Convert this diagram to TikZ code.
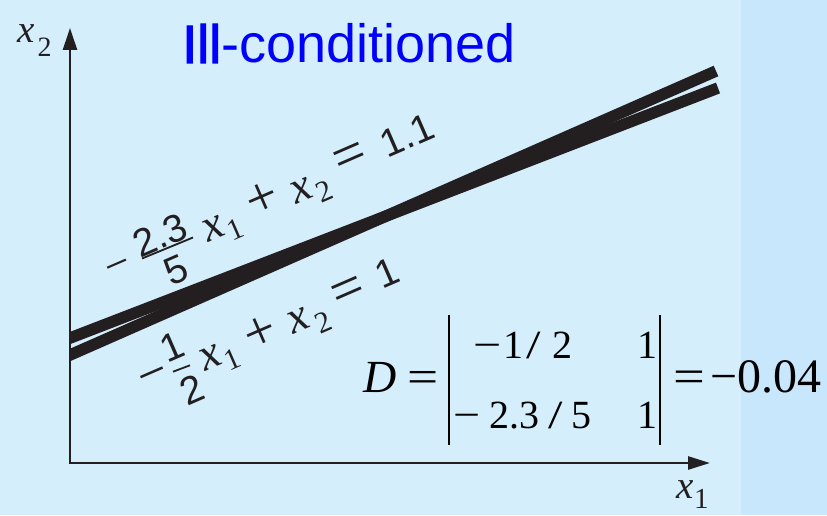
\documentclass[tikz,border=0pt]{standalone}
\usepackage{fontspec}
\setmainfont{Liberation Serif}
\newfontfamily\digfont{Liberation Sans}
\newfontfamily\titlefont{Liberation Sans}
\newfontfamily\titlefontfb{Liberation Sans}[FakeBold=2]
\usetikzlibrary{arrows.meta}
\newcommand\setfs[1]{\fontsize{#1}{#1}\selectfont}
\newcommand\wslash{\scalebox{1.3}[1]{/}}
\definecolor{bgmain}{RGB}{213,238,252}
\definecolor{bgstrip}{RGB}{200,231,252}
\definecolor{ink}{RGB}{35,31,32}
\definecolor{titleblue}{RGB}{0,0,255}
\tikzset{
  eqline/.style={line width=11.5pt, draw=ink, line cap=butt},
  axisline/.style={line width=2.6pt, draw=ink, line join=miter},
  lab/.style={inner sep=0pt, text=ink, rotate=23.5},
  digs/.style={lab, font=\digfont\setfs{39}},
  varx/.style={lab, font=\itshape\setfs{46}},
  subs/.style={lab, font=\setfs{30}},
  plussign/.style={lab, font=\setfs{56}},
  eqsign/.style={lab, font=\setfs{58}},
  fracbar/.style={draw=ink, line width=1.8pt},
  detbar/.style={draw=black, line width=2.2pt},
  dettext/.style={inner sep=0pt, anchor=base west, text=black},
}
\begin{document}
\begin{tikzpicture}[x=1pt,y=1pt]
\useasboundingbox (0,0) rectangle (827,515);
\fill[bgmain] (0,0) rectangle (741,515);
\fill[bgstrip] (741,0) rectangle (827,515);

% the two lines
\coordinate (a1) at (60,173.1);
\coordinate (a2) at (718,427);
\coordinate (b1) at (60,155.6);
\coordinate (b2) at (716,444);
\begin{scope}
  \clip (70,0) rectangle (827,515);
  \draw[eqline] (a1) -- (a2);
  \draw[eqline] (b1) -- (b2);
\end{scope}

% axes
\coordinate (O) at (70,52);
\coordinate (ytip) at (70,487);
\coordinate (xtip) at (710,52);
\draw[axisline, {Triangle[length=22pt,width=14pt]}-{Triangle[length=22pt,width=13pt]}] (ytip) -- (O) -- (xtip);

\node[anchor=base west, inner sep=0pt, text=ink] (xtwo) at (17.5,472)
  {\setfs{39}\itshape x\kern2.5pt\raisebox{-14pt}{\upshape\setfs{28}2}};
\node[anchor=base west, inner sep=0pt, text=ink] (xone) at (676.5,17)
  {\setfs{39}\itshape x\kern0pt\raisebox{-10pt}{\upshape\setfs{29}1}};

% title
\node[anchor=base west, inner sep=0pt, text=titleblue] (title) at (182,452)
  {\setfs{54}\titlefontfb Ill\titlefont-conditioned};

% upper label: -2.3/5 x1 + x2 = 1.1
\node[lab, font=\setfs{44}] (um) at (120,244.5) {−};
\node[digs] (un) at (160,280) {2.3};
\coordinate (ub1) at (142,256.5);
\coordinate (ub2) at (193,277.5);
\draw[fracbar] (ub1) -- (ub2);
\node[digs] (ud) at (176.5,245) {5};
\node[varx] (ux1) at (214,286.5) {x};
\node[subs] (us1) at (235.5,285.5) {1};
\node[plussign] (up) at (262.5,315) {+};
\node[varx] (ux2) at (302,324.5) {x};
\node[subs] (us2) at (324.5,323.5) {2};
\node[eqsign] (ue) at (351,355) {=};
\node[digs] (ur) at (407.5,380) {1.1};

% lower label: -1/2 x1 + x2 = 1
\node[lab, font=\setfs{52}] (lm) at (155,135) {−};
\node[digs] (ln) at (172.5,168) {1};
\coordinate (lb1) at (173,143.3);
\coordinate (lb2) at (190,149.7);
\draw[fracbar] (lb1) -- (lb2);
\node[digs] (ld) at (192.5,125) {2};
\node[varx] (lx1) at (211,157) {x};
\node[subs] (ls1) at (232,155.5) {1};
\node[plussign] (lp) at (260.5,181.5) {+};
\node[varx] (lx2) at (299,194.5) {x};
\node[subs] (ls2) at (323,193) {2};
\node[eqsign] (le) at (349,221) {=};
\node[digs] (lr) at (387.5,242.5) {1};

% determinant
\node[dettext] (dlhs) at (363,123) {\setfs{46}\itshape D\upshape\ \scalebox{1.2}[1]{=}};
\coordinate (lbar1) at (449.3,200);
\coordinate (lbar2) at (449.3,70);
\coordinate (rbar1) at (660,200);
\coordinate (rbar2) at (660,70);
\draw[detbar] (lbar1) -- (lbar2);
\draw[detbar] (rbar1) -- (rbar2);
\node[dettext] (m11) at (473,157) {\setfs{40}\scalebox{1.25}[1]{−}\kern2.4pt1\kern3pt\wslash\kern11pt2};
\node[dettext] (m12) at (637.6,157) {\setfs{40}1};
\node[dettext] (m21) at (453,87) {\setfs{40}\scalebox{1.2}[1]{−}\kern9pt2.3\kern9pt\wslash\kern9pt5};
\node[dettext] (m22) at (637.6,87) {\setfs{40}1};
\node[dettext] (drhs) at (673,122.5) {\setfs{47}\scalebox{1.2}[1]{=}\kern5.6pt\setfs{48}−0.04};
\end{tikzpicture}
\end{document}
